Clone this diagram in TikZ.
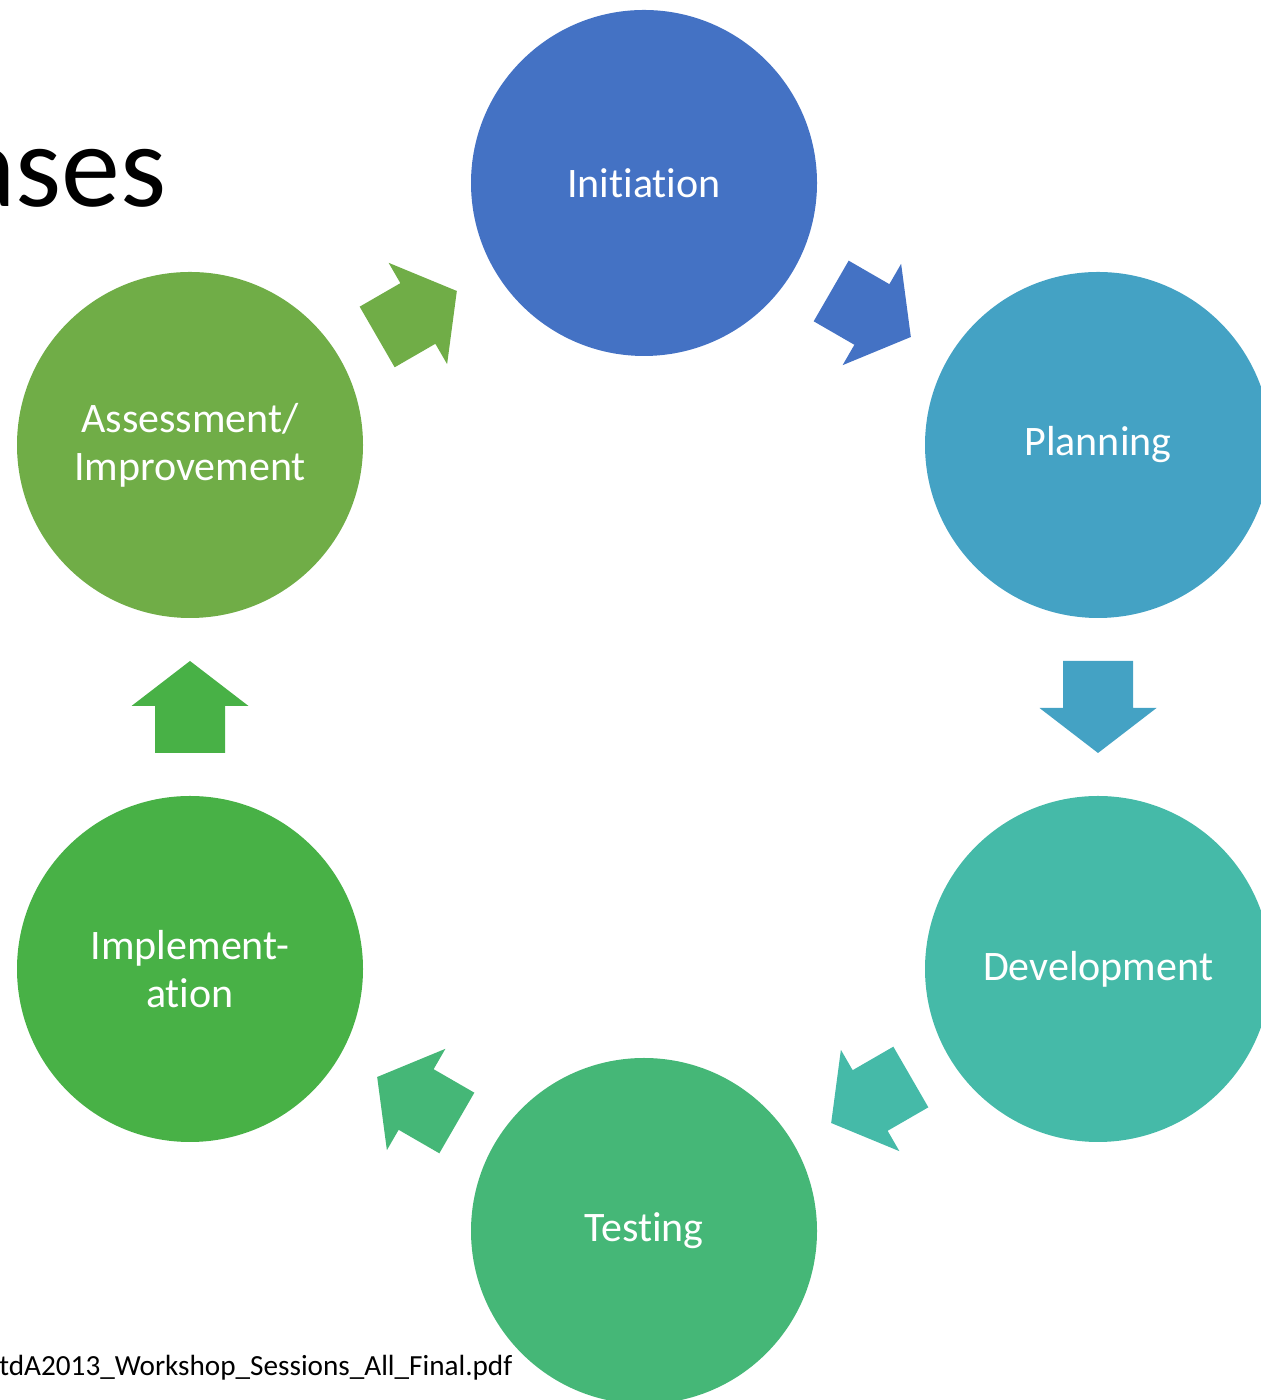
\documentclass[tikz,border=0pt]{standalone}
\usepackage{fontspec}
\setmainfont{Carlito}[Ligatures={NoCommon,NoRare}]
\usetikzlibrary{calc}

\definecolor{initblue}{HTML}{4472C4}
\definecolor{planblue}{HTML}{44A2C4}
\definecolor{devteal}{HTML}{45BAA8}
\definecolor{testgreen}{HTML}{45B777}
\definecolor{implgreen}{HTML}{48B146}
\definecolor{assgreen}{HTML}{70AD47}

\tikzset{
  phase/.style={circle, minimum size=173pt, inner sep=0pt, text=white,
    font=\fontsize{21}{24}\selectfont, align=center},
  blockarrow/.pic={
    \fill (-46,-35) -- (1,-35) -- (1,-58.5) -- (46,0) -- (1,58.5) -- (1,35) -- (-46,35) -- cycle;
  }
}

\begin{document}
\begin{tikzpicture}[x=0.5pt, y=0.5pt]

    \useasboundingbox (0,0) rectangle (1261,1400);
    \clip (0,0) rectangle (1261,1400);

    % --- resto del titolo, tagliato dal bordo ---
    \node[anchor=base east, inner sep=0pt, font=\fontsize{59}{70}\selectfont] (title) at (167,1193) {ases};

    % --- Fasi ---
    \node[phase, fill=initblue] (init) at (644,1217) {Initiation};
    \node[phase, fill=planblue] (plan) at (1098,955) {Planning};
    \node[phase, fill=devteal] (dev) at (1098,431) {Development};
    \node[phase, fill=testgreen] (test) at (644,169) {Testing};
    \node[phase, fill=implgreen] (impl) at (190,431) {Implement-\\ation};
    \node[phase, fill=assgreen] (assess) at (190,955) {Assessment/\\Improvement};

    % --- Frecce tra le fasi ---
    \pic[initblue, rotate=-30] at ($(init)!0.5!(plan)$) {blockarrow};
    \pic[planblue, rotate=-90] at ($(plan)!0.5!(dev)$) {blockarrow};
    \pic[devteal, rotate=210] at ($(dev)!0.5!(test)$) {blockarrow};
    \pic[testgreen, rotate=150] at ($(test)!0.5!(impl)$) {blockarrow};
    \pic[implgreen, rotate=90] at ($(impl)!0.5!(assess)$) {blockarrow};
    \pic[assgreen, rotate=30] at ($(assess)!0.5!(init)$) {blockarrow};

    % Sorgente
    \node[anchor=base west, inner sep=0pt, font=\fontsize{14.6}{18}\selectfont] (source) at (-1,25) {tdA2013\_Workshop\_Sessions\_All\_Final.pdf};

\end{tikzpicture}
\end{document}
